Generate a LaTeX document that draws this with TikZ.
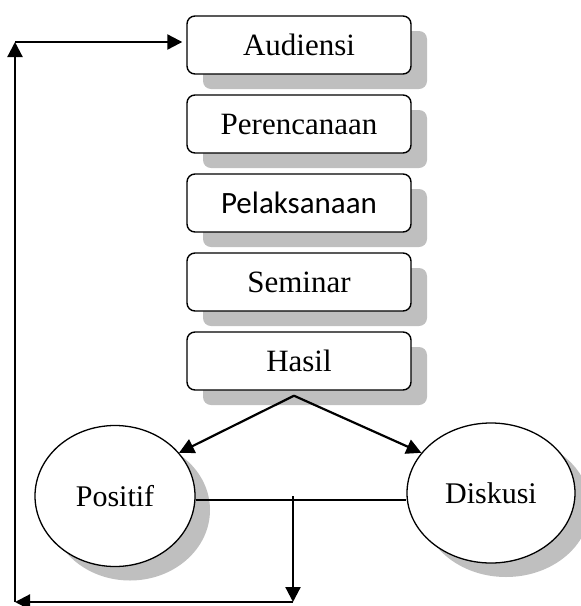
\documentclass[tikz,border=0pt]{standalone}
\usepackage{fontspec}
\setmainfont{Liberation Serif}
\newfontfamily\calibri{Carlito}
\usepackage{tikz}
\usetikzlibrary{shapes.geometric}
\usetikzlibrary{shadows}
\usetikzlibrary{arrows.meta}

\begin{document}
\begin{tikzpicture}[x = 1pt, y = -1pt, node distance = 79pt,
        >={Triangle[length=15pt, width=15pt]},
        box/.style = {rectangle, rounded corners = 8pt, draw, line width = 1.4pt, fill = white,
            minimum width = 224pt, minimum height = 58pt, inner sep = 0pt,
            font = \fontsize{31}{36}\selectfont,
            drop shadow = {shadow xshift = 16pt, shadow yshift = -15pt, fill = black!25, opacity = 1}},
        oval/.style = {ellipse, draw, line width = 1.3pt, fill = white, inner sep = 0pt,
            font = \fontsize{30}{36}\selectfont,
            drop shadow = {shadow xshift = 15pt, shadow yshift = -14pt, fill = black!25, opacity = 1}},
        link/.style = {line width = 2.2pt}]
        \useasboundingbox (0, 0) rectangle (581, 606);

        \node (a) [box] at (299, 45) {Audiensi};
        \node (p) [box, below of = a] {Perencanaan};
        \node (l) [box, below of = p] {\calibri Pelaksanaan\hspace{16pt}};
        \node (s) [box, below of = l] {Seminar};
        \node (h) [box, below of = s] {Hasil};
        \node (pos) [oval, minimum width = 160pt, minimum height = 141pt] at (115, 496) {Positif};
        \node (dis) [oval, minimum width = 168pt, minimum height = 140pt] at (491, 493) {Diskusi};

        \coordinate (split) at ([shift = {(-5pt, -5pt)}] h.south);
        \coordinate (drop) at (293, 500);
        \coordinate (br) at (293, 602);
        \coordinate (bl) at (15, 602);
        \coordinate (tl) at (15, 42);

        \draw[link, ->] (split) -- (pos.34);
        \draw[link, ->] (split) -- (dis.150);
        \draw[line width = 1.3pt] (pos.east |- drop) -- (dis.west |- drop);

        % way back to the top
        \draw[link, ->] ([yshift = 4pt] drop) -- (br);
        \draw[link, ->] (br) -- (bl);
        \draw[link, ->] (bl) -- (tl);
        \draw[link, ->] (tl) -- ([xshift = -4pt] a.west |- tl);
    \end{tikzpicture}
\end{document}
